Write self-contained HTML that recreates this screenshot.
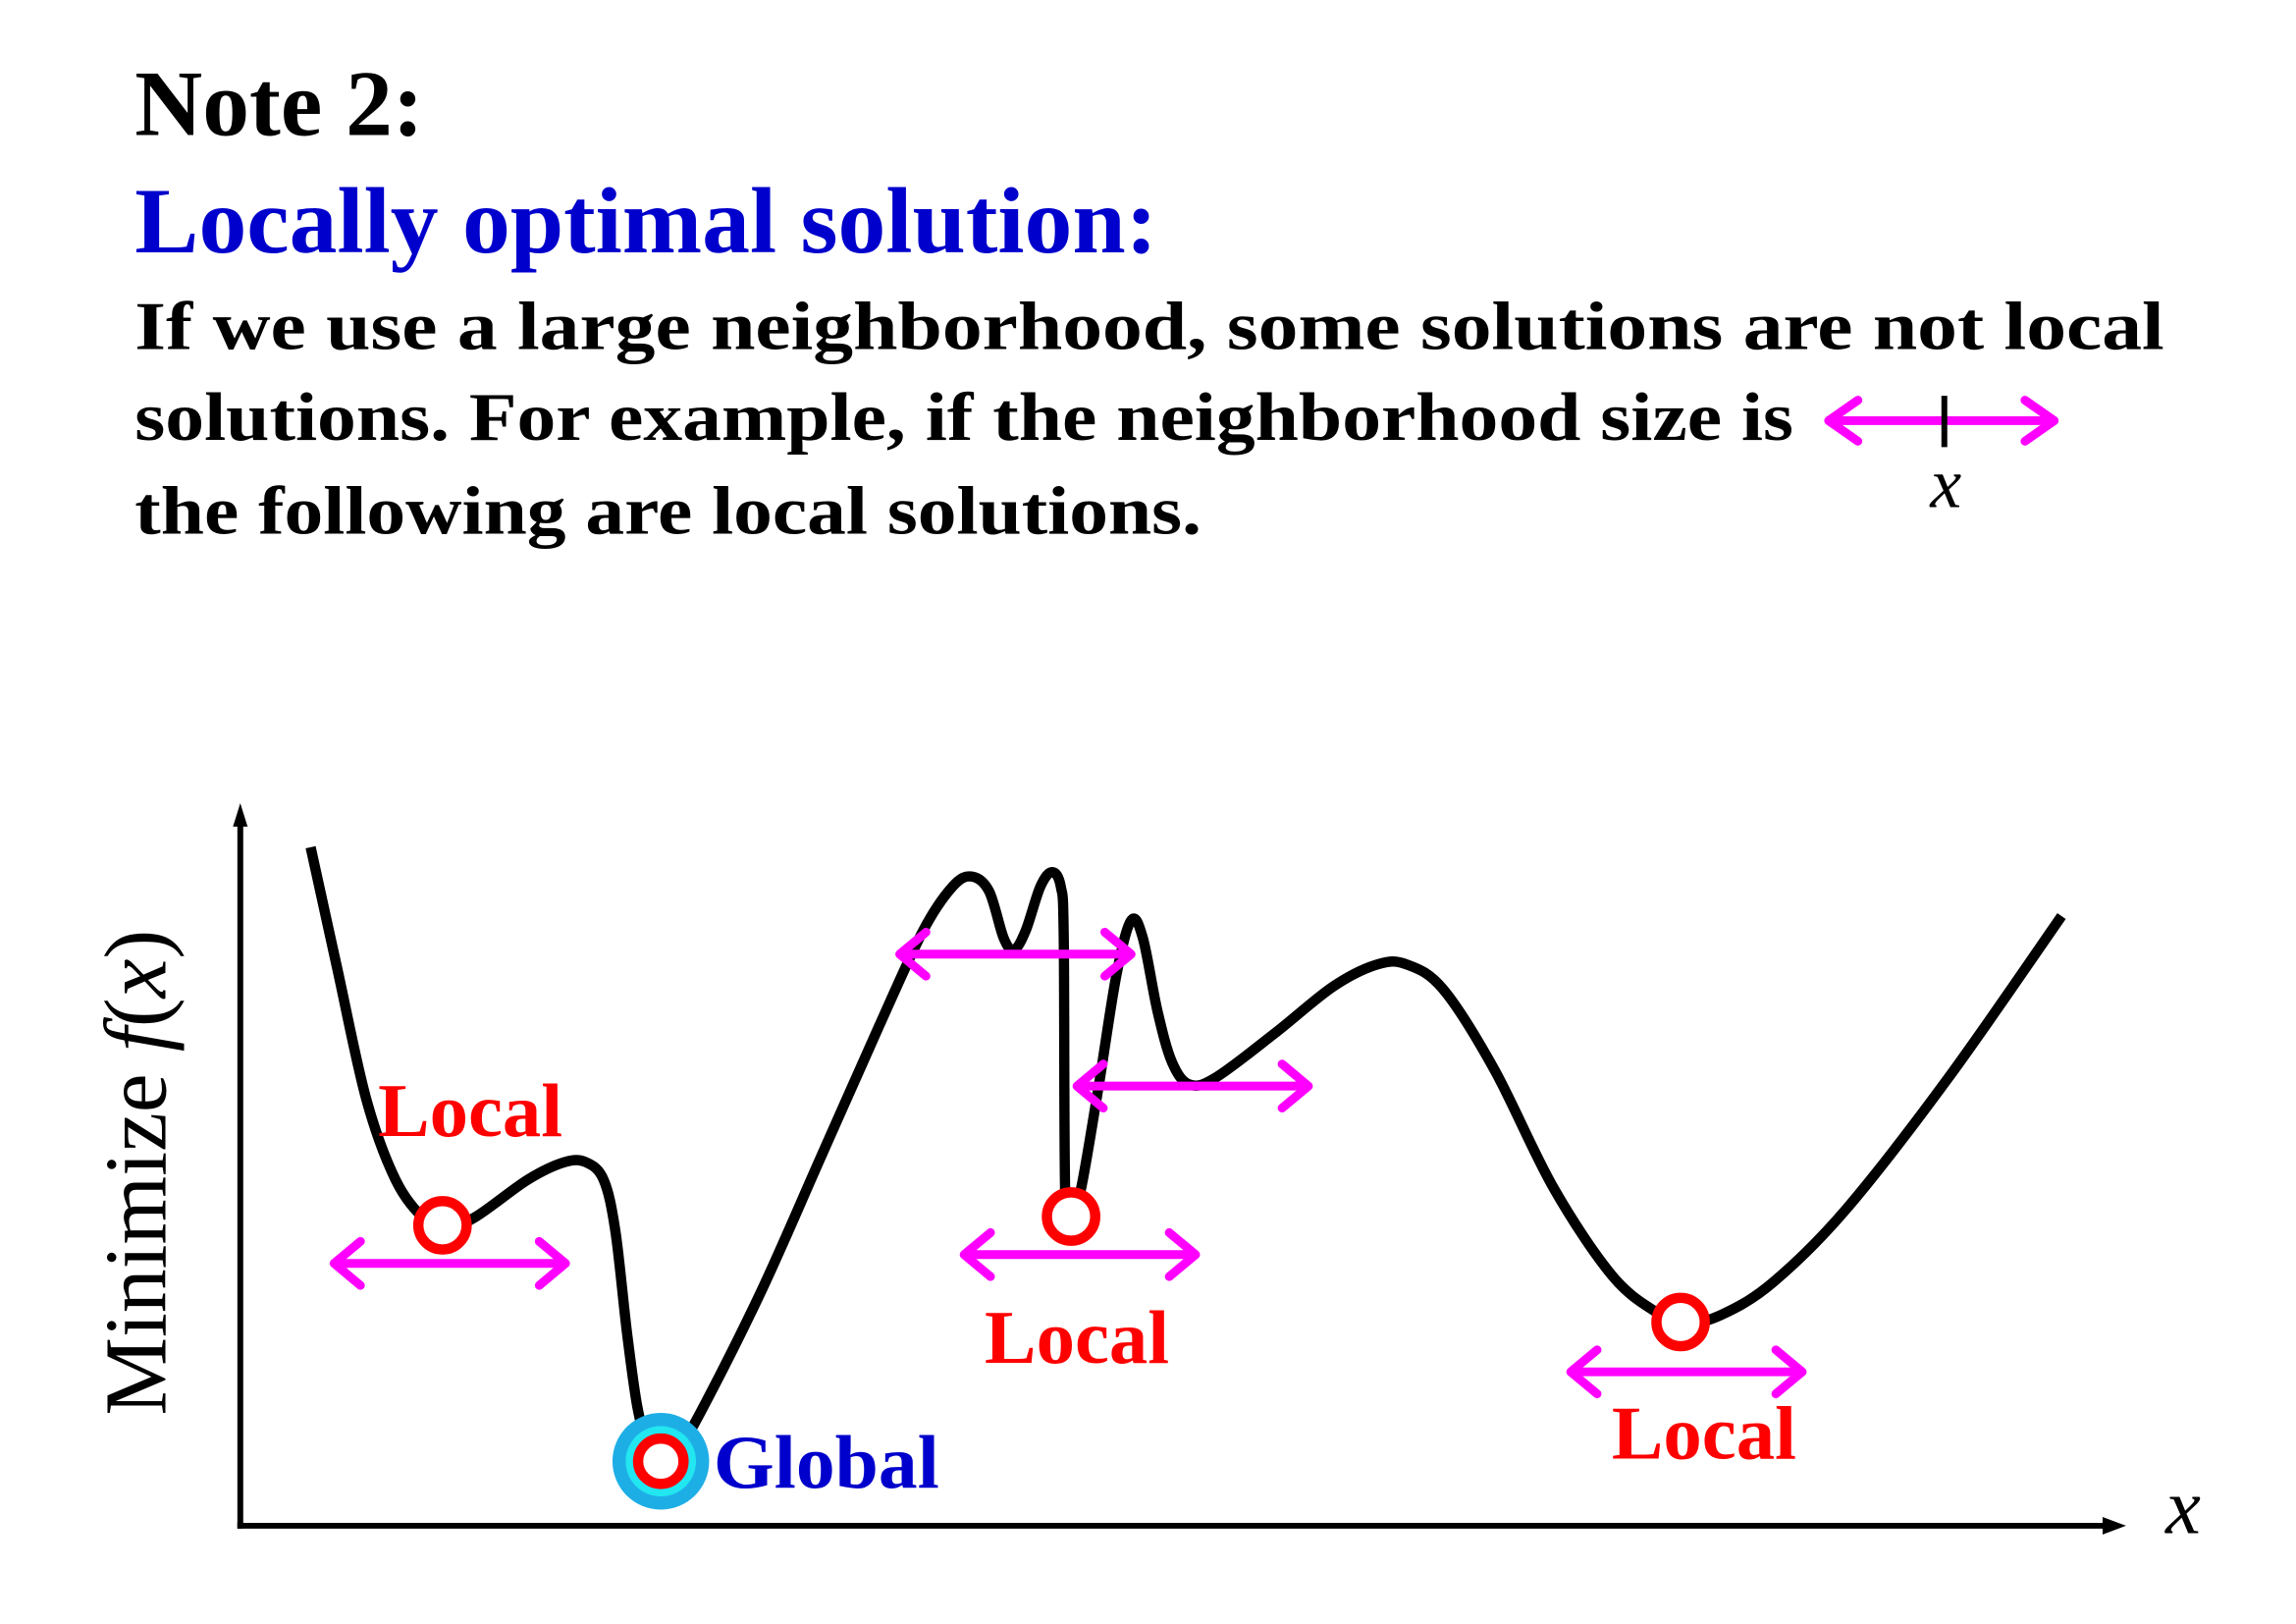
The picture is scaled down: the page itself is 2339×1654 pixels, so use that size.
<!DOCTYPE html>
<html><head><meta charset="utf-8"><style>
html,body{margin:0;padding:0;background:#fff;}
svg{display:block;}
.t{font-family:"Liberation Serif",serif;font-weight:bold;}
</style></head><body>
<svg id="chart" width="2339" height="1654" viewBox="0 0 1567 1108" xmlns="http://www.w3.org/2000/svg">
<text class="t" x="92" y="92" font-size="64" fill="#000">Note 2:</text>
<text class="t" x="92" y="172" font-size="64" fill="#0000CC" textLength="698" lengthAdjust="spacingAndGlyphs">Locally optimal solution:</text>
<text class="t" x="92" y="238" font-size="47" fill="#000" textLength="1385" lengthAdjust="spacingAndGlyphs">If we use a large neighborhood, some solutions are not local</text>
<text class="t" x="92" y="300" font-size="47" fill="#000" textLength="1132" lengthAdjust="spacingAndGlyphs">solutions. For example, if the neighborhood size is</text>
<text class="t" x="92" y="364" font-size="47" fill="#000" textLength="728" lengthAdjust="spacingAndGlyphs">the following are local solutions.</text>
<g>
<line x1="1250" y1="287" x2="1400" y2="287" stroke="#FF00FF" stroke-width="6"/>
<polyline points="1268,273 1248,287 1268,301" fill="none" stroke="#FF00FF" stroke-width="6" stroke-linecap="round" stroke-linejoin="round"/>
<polyline points="1382,273 1402,287 1382,301" fill="none" stroke="#FF00FF" stroke-width="6" stroke-linecap="round" stroke-linejoin="round"/>
<line x1="1327" y1="270" x2="1327" y2="305" stroke="#000" stroke-width="4"/>
<text x="1328" y="346" font-size="48" font-style="italic" text-anchor="middle" font-family="Liberation Serif, serif">x</text>
</g>
<g id="axes">
<line x1="164" y1="1043" x2="164" y2="558" stroke="#000" stroke-width="4"/>
<polygon points="164,548 159,564 169,564" fill="#000"/>
<line x1="162" y1="1041" x2="1440" y2="1041" stroke="#000" stroke-width="4"/>
<polygon points="1451,1041 1435,1035 1435,1047" fill="#000"/>
<text x="1490" y="1046" font-size="54" font-style="italic" text-anchor="middle" font-family="Liberation Serif, serif">x</text>
<text transform="translate(113,800) rotate(-90)" font-size="60" text-anchor="middle" font-family="Liberation Serif, serif">Minimize <tspan font-style="italic">f</tspan>(<tspan font-style="italic">x</tspan>)</text>
</g>
<g id="plot"></g>
</svg>
<script>
const curveX=[4.9,6.7,8.7,10.7,12.7,14.2,16.2,19.7,22.2,23.7,24.9,25.7,26.5,27.2,27.9,28.8,29.9,31.7,35.7,39.7,43.7,46.7,48.7,50.0,51.2,52.2,52.9,53.7,54.7,55.5,56.1,56.3,56.4,56.8,57.5,58.7,59.9,60.9,61.7,62.7,63.7,64.9,66.7,70.7,74.7,77.7,79.7,82.2,85.7,89.7,93.7,96.7,98.7,101.2,104.7,109.7,116.7,124.4];
const curveY=[46.3,38.1,29.1,23.6,20.9,20.3,21.1,23.6,24.8,24.8,23.6,20.1,13.1,8.1,5.6,4.6,5.1,8.1,16.1,25.1,34.1,40.6,43.6,44.3,43.3,40.1,39.3,40.6,43.6,44.6,43.6,40.1,22.6,21.1,23.1,30.1,37.6,41.3,40.1,35.1,31.6,30.1,30.6,33.6,36.8,38.3,38.3,36.6,31.1,23.1,17.1,14.6,13.8,14.4,16.6,21.6,30.6,41.6];
const localX=[13.9,56.8,98.4];
const localY=[20.5,21.1,13.9];
const globalX=[28.8];
const globalY=[4.4];
const arrowX=[14.4,53.0,65.1,57.4,98.8];
const arrowY=[17.9,39.0,30.0,18.5,10.5];
const arrowHalf=[7.9,7.9,7.9,7.9,7.9];
const labelText=["Local","Local","Local","Global"];
const labelX=[9.5,50.9,93.7,32.4];
const labelY=[26.6,11.1,4.6,2.6];
const labelColor=["#FF0000","#FF0000","#FF0000","#0000CC"];

function sx(v){return 163+v*10;}
function sy(v){return 1041-v*10;}
const NS="http://www.w3.org/2000/svg";
const plot=document.getElementById('plot');
function mk(tag,attrs){const e=document.createElementNS(NS,tag);for(const k in attrs)e.setAttribute(k,attrs[k]);return e;}

const P=curveX.map((x,i)=>[sx(x),sy(curveY[i])]);
let d="M"+P[0][0]+","+P[0][1];
for(let i=0;i<P.length-1;i++){
  const p0=P[Math.max(0,i-1)],p1=P[i],p2=P[i+1],p3=P[Math.min(P.length-1,i+2)];
  const t=1/6;
  const c1=[p1[0]+(p2[0]-p0[0])*t,p1[1]+(p2[1]-p0[1])*t];
  const c2=[p2[0]-(p3[0]-p1[0])*t,p2[1]-(p3[1]-p1[1])*t];
  d+=" C"+c1[0]+","+c1[1]+" "+c2[0]+","+c2[1]+" "+p2[0]+","+p2[1];
}
const path=mk('path',{d:d,fill:'none',stroke:'#000','stroke-width':7,'stroke-linejoin':'round','stroke-linecap':'butt'});


plot.appendChild(path);

arrowX.forEach((x,i)=>{
  const g=mk('g',{});
  
  
  const cx=sx(x),cy=sy(arrowY[i]),h=arrowHalf[i]*10;
  g.appendChild(mk('line',{x1:cx-h+3,y1:cy,x2:cx+h-3,y2:cy,stroke:'#FF00FF','stroke-width':6}));
  g.appendChild(mk('polyline',{points:(cx-h+18)+","+(cy-15)+" "+(cx-h)+","+cy+" "+(cx-h+18)+","+(cy+15),fill:'none',stroke:'#FF00FF','stroke-width':6,'stroke-linecap':'round','stroke-linejoin':'round'}));
  g.appendChild(mk('polyline',{points:(cx+h-18)+","+(cy-15)+" "+(cx+h)+","+cy+" "+(cx+h-18)+","+(cy+15),fill:'none',stroke:'#FF00FF','stroke-width':6,'stroke-linecap':'round','stroke-linejoin':'round'}));
  plot.appendChild(g);
});

globalX.forEach((x,i)=>{
  const cx=sx(x),cy=sy(globalY[i]);
  const g=mk('g',{});
  
  
  g.appendChild(mk('circle',{cx:cx,cy:cy,r:33,fill:'#1EAEE6'}));
  g.appendChild(mk('circle',{cx:cx,cy:cy,r:24,fill:'#22E6F0'}));
  g.appendChild(mk('circle',{cx:cx,cy:cy,r:15.5,fill:'#fff',stroke:'#FF0000','stroke-width':7}));
  plot.appendChild(g);
});

localX.forEach((x,i)=>{
  const c=mk('circle',{cx:sx(x),cy:sy(localY[i]),r:16.5,fill:'#fff',stroke:'#FF0000','stroke-width':7});
  
  
  plot.appendChild(c);
});

labelText.forEach((s,i)=>{
  const t=mk('text',{x:sx(labelX[i]),y:sy(labelY[i]),'font-size':52,fill:labelColor[i],'font-family':'Liberation Serif, serif','font-weight':'bold',textLength:(s==='Global'?154:126),lengthAdjust:'spacingAndGlyphs'});
  t.textContent=s;
  
  
  plot.appendChild(t);
});
</script>
</body></html>
